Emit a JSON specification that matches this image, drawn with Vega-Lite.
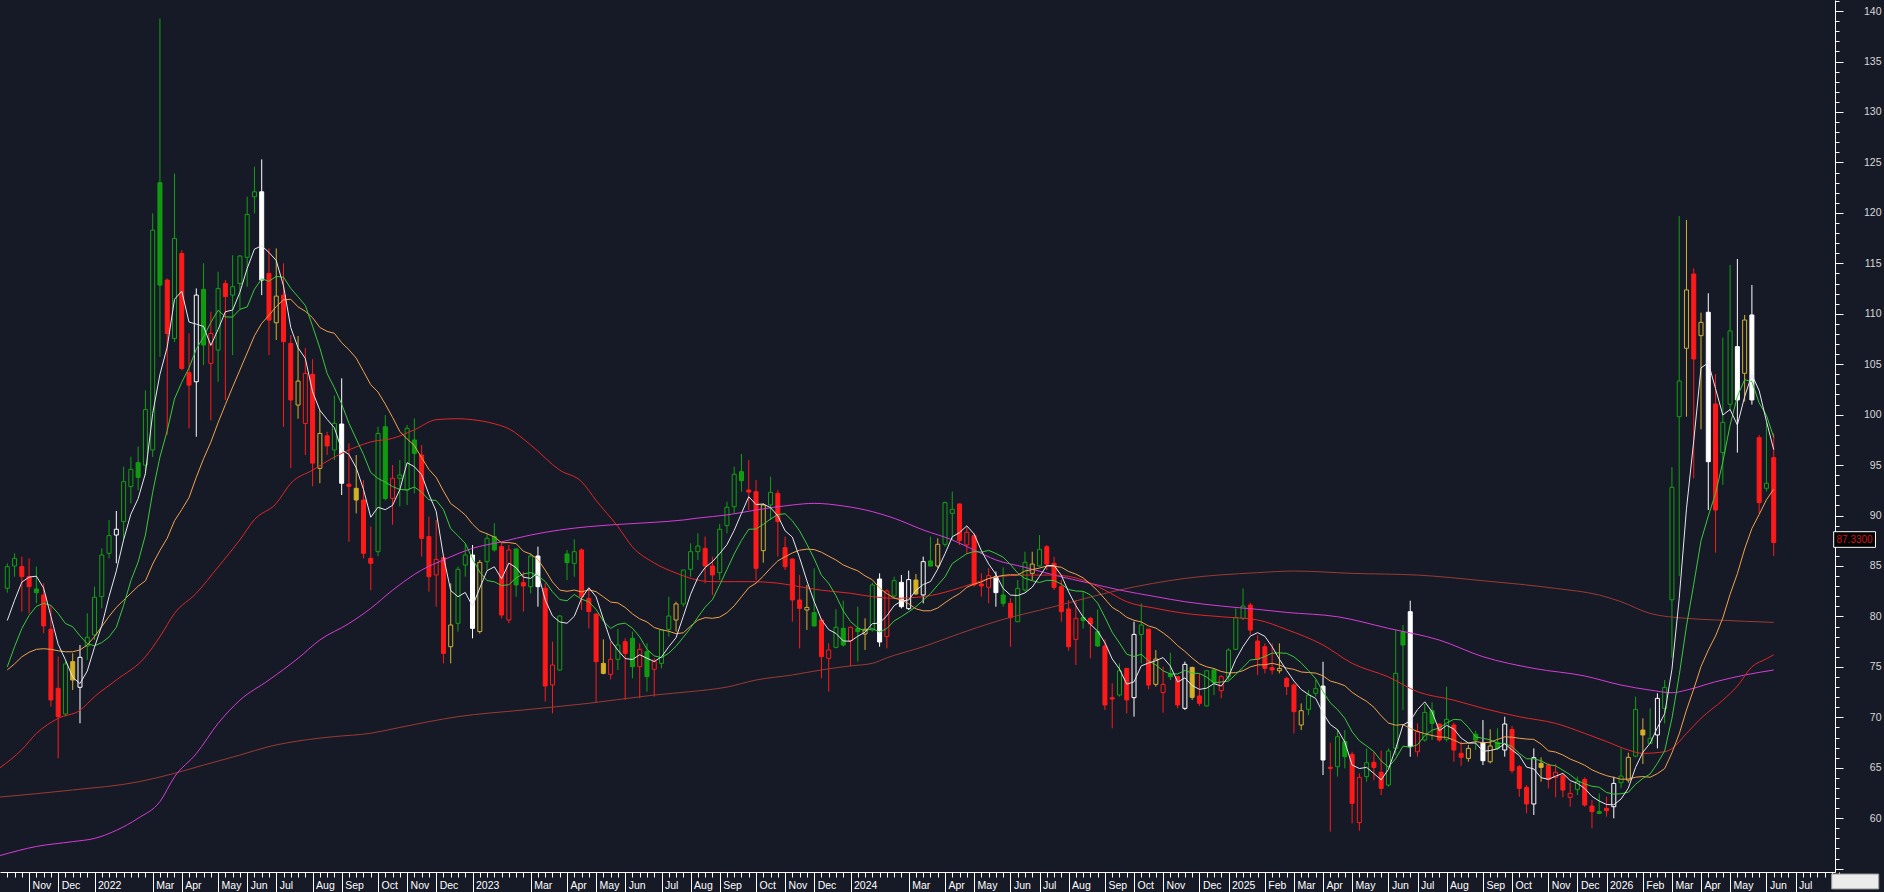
{
"$schema":"https://vega.github.io/schema/vega-lite/v6.json",
"width":1835,"height":872,
"autosize":{"type":"none"},
"padding":{"left":0,"top":0,"right":49,"bottom":20},
"background":"#161a27",
"config":{"view":{"stroke":null},"axis":{"grid":false,"title":null}},
"datasets":{
"c":[
{"d":"2021-10-15","o":82.79,"h":85.27,"l":82.36,"c":84.94,"k":"gh"},
{"d":"2021-10-22","o":85.0,"h":86.26,"l":83.94,"c":85.76,"k":"gh"},
{"d":"2021-10-29","o":84.94,"h":85.93,"l":80.48,"c":83.95,"k":"rf"},
{"d":"2021-11-05","o":83.95,"h":85.76,"l":80.31,"c":82.95,"k":"rf"},
{"d":"2021-11-12","o":82.72,"h":84.94,"l":81.3,"c":82.36,"k":"gf"},
{"d":"2021-11-19","o":82.13,"h":83.28,"l":78.33,"c":79.06,"k":"rf"},
{"d":"2021-11-26","o":78.73,"h":81.14,"l":71.06,"c":71.72,"k":"rf"},
{"d":"2021-12-03","o":72.88,"h":76.02,"l":65.94,"c":70.07,"k":"rf"},
{"d":"2021-12-10","o":70.33,"h":75.6,"l":70.1,"c":75.29,"k":"gh"},
{"d":"2021-12-17","o":75.52,"h":76.35,"l":72.71,"c":73.7,"k":"yf"},
{"d":"2021-12-24","o":72.98,"h":77.17,"l":69.41,"c":75.95,"k":"wh"},
{"d":"2021-12-31","o":77.07,"h":80.31,"l":75.69,"c":77.93,"k":"gh"},
{"d":"2022-01-07","o":78.16,"h":82.95,"l":77.67,"c":81.9,"k":"gh"},
{"d":"2022-01-14","o":81.96,"h":86.75,"l":80.81,"c":86.09,"k":"gh"},
{"d":"2022-01-21","o":86.26,"h":89.56,"l":85.76,"c":88.01,"k":"gh"},
{"d":"2022-01-28","o":88.07,"h":90.45,"l":85.27,"c":88.64,"k":"wh"},
{"d":"2022-02-04","o":89.4,"h":94.85,"l":87.6,"c":93.36,"k":"gh"},
{"d":"2022-02-11","o":92.87,"h":95.84,"l":91.21,"c":94.58,"k":"gh"},
{"d":"2022-02-18","o":95.24,"h":96.83,"l":92.5,"c":93.79,"k":"gf"},
{"d":"2022-02-25","o":95.0,"h":102.4,"l":94.0,"c":100.5,"k":"gh"},
{"d":"2022-03-04","o":96.5,"h":119.95,"l":95.8,"c":118.29,"k":"gh"},
{"d":"2022-03-11","o":122.99,"h":139.27,"l":105.74,"c":112.84,"k":"gf"},
{"d":"2022-03-18","o":113.34,"h":113.5,"l":98.0,"c":108.05,"k":"rf"},
{"d":"2022-03-25","o":107.56,"h":123.9,"l":107.2,"c":117.47,"k":"gh"},
{"d":"2022-04-01","o":115.98,"h":116.3,"l":104.4,"c":104.58,"k":"rf"},
{"d":"2022-04-08","o":104.16,"h":108.05,"l":98.64,"c":102.93,"k":"rf"},
{"d":"2022-04-15","o":103.26,"h":112.51,"l":97.81,"c":111.85,"k":"wh"},
{"d":"2022-04-22","o":112.41,"h":115.0,"l":104.9,"c":106.9,"k":"gf"},
{"d":"2022-04-29","o":105.08,"h":110.2,"l":99.45,"c":108.05,"k":"rh"},
{"d":"2022-05-06","o":106.4,"h":114.17,"l":103.26,"c":112.51,"k":"gh"},
{"d":"2022-05-13","o":113.0,"h":113.34,"l":101.45,"c":111.7,"k":"rf"},
{"d":"2022-05-20","o":111.85,"h":115.8,"l":105.9,"c":112.68,"k":"gh"},
{"d":"2022-05-27","o":113.0,"h":115.82,"l":110.4,"c":115.72,"k":"gh"},
{"d":"2022-06-03","o":115.6,"h":121.6,"l":112.68,"c":119.85,"k":"gh"},
{"d":"2022-06-10","o":121.6,"h":124.57,"l":119.95,"c":122.09,"k":"gh"},
{"d":"2022-06-17","o":122.09,"h":125.3,"l":111.85,"c":113.34,"k":"wf"},
{"d":"2022-06-24","o":114.0,"h":116.48,"l":105.9,"c":109.37,"k":"rf"},
{"d":"2022-07-01","o":109.11,"h":116.48,"l":107.4,"c":111.75,"k":"yh"},
{"d":"2022-07-08","o":111.85,"h":114.99,"l":98.8,"c":107.23,"k":"rf"},
{"d":"2022-07-15","o":107.06,"h":107.89,"l":94.7,"c":101.45,"k":"rf"},
{"d":"2022-07-22","o":100.95,"h":107.8,"l":99.6,"c":103.33,"k":"yh"},
{"d":"2022-07-29","o":99.13,"h":106.6,"l":96.0,"c":104.09,"k":"rh"},
{"d":"2022-08-05","o":104.0,"h":105.5,"l":92.9,"c":95.2,"k":"rf"},
{"d":"2022-08-12","o":94.68,"h":100.45,"l":93.2,"c":98.14,"k":"yh"},
{"d":"2022-08-19","o":97.9,"h":98.3,"l":96.0,"c":96.9,"k":"rf"},
{"d":"2022-08-26","o":96.5,"h":101.9,"l":95.5,"c":99.14,"k":"gh"},
{"d":"2022-09-02","o":99.07,"h":103.6,"l":92.04,"c":93.2,"k":"wf"},
{"d":"2022-09-09","o":93.1,"h":97.15,"l":87.4,"c":92.9,"k":"rf"},
{"d":"2022-09-16","o":92.7,"h":96.0,"l":90.22,"c":91.54,"k":"yf"},
{"d":"2022-09-23","o":91.54,"h":93.5,"l":85.76,"c":86.26,"k":"rf"},
{"d":"2022-09-30","o":85.76,"h":88.9,"l":82.6,"c":85.27,"k":"rf"},
{"d":"2022-10-07","o":86.42,"h":98.8,"l":86.0,"c":98.14,"k":"gh"},
{"d":"2022-10-14","o":98.8,"h":99.96,"l":91.5,"c":91.7,"k":"gf"},
{"d":"2022-10-21","o":91.71,"h":95.0,"l":89.1,"c":93.69,"k":"rh"},
{"d":"2022-10-28","o":93.69,"h":95.5,"l":90.9,"c":94.02,"k":"gh"},
{"d":"2022-11-04","o":92.53,"h":98.97,"l":91.05,"c":98.64,"k":"gh"},
{"d":"2022-11-11","o":97.49,"h":99.63,"l":92.2,"c":96.17,"k":"gf"},
{"d":"2022-11-18","o":96.0,"h":96.99,"l":85.93,"c":87.74,"k":"rf"},
{"d":"2022-11-25","o":87.91,"h":89.89,"l":82.46,"c":83.94,"k":"rf"},
{"d":"2022-12-02","o":84.11,"h":89.56,"l":80.97,"c":85.66,"k":"rh"},
{"d":"2022-12-09","o":85.83,"h":85.9,"l":75.35,"c":76.34,"k":"rf"},
{"d":"2022-12-16","o":77.0,"h":83.28,"l":75.35,"c":79.15,"k":"yh"},
{"d":"2022-12-23","o":79.32,"h":84.94,"l":78.5,"c":84.67,"k":"gh"},
{"d":"2022-12-30","o":85.1,"h":87.25,"l":83.94,"c":86.09,"k":"gh"},
{"d":"2023-01-06","o":86.09,"h":87.08,"l":77.83,"c":78.82,"k":"wf"},
{"d":"2023-01-13","o":78.5,"h":85.6,"l":78.3,"c":85.36,"k":"yh"},
{"d":"2023-01-20","o":85.43,"h":88.24,"l":84.6,"c":87.74,"k":"gh"},
{"d":"2023-01-27","o":87.91,"h":89.23,"l":86.42,"c":86.59,"k":"gf"},
{"d":"2023-02-03","o":86.92,"h":87.25,"l":79.81,"c":80.14,"k":"rf"},
{"d":"2023-02-10","o":79.65,"h":87.08,"l":79.32,"c":86.59,"k":"rh"},
{"d":"2023-02-17","o":86.69,"h":86.75,"l":81.96,"c":83.12,"k":"gf"},
{"d":"2023-02-24","o":83.35,"h":84.44,"l":80.48,"c":83.02,"k":"rf"},
{"d":"2023-03-03","o":82.95,"h":86.26,"l":82.29,"c":85.99,"k":"gh"},
{"d":"2023-03-10","o":85.99,"h":86.92,"l":80.97,"c":82.95,"k":"wf"},
{"d":"2023-03-17","o":82.79,"h":83.28,"l":71.56,"c":73.11,"k":"rf"},
{"d":"2023-03-24","o":73.21,"h":77.5,"l":70.4,"c":75.19,"k":"rh"},
{"d":"2023-03-31","o":74.69,"h":80.14,"l":74.63,"c":80.04,"k":"gh"},
{"d":"2023-04-07","o":86.19,"h":86.59,"l":83.61,"c":85.33,"k":"gf"},
{"d":"2023-04-14","o":85.26,"h":87.64,"l":83.94,"c":86.42,"k":"gh"},
{"d":"2023-04-21","o":86.59,"h":86.75,"l":80.64,"c":81.96,"k":"rf"},
{"d":"2023-04-28","o":81.79,"h":82.79,"l":78.82,"c":80.48,"k":"rf"},
{"d":"2023-05-05","o":80.24,"h":80.3,"l":71.46,"c":75.52,"k":"rf"},
{"d":"2023-05-12","o":75.35,"h":77.73,"l":74.26,"c":74.36,"k":"yf"},
{"d":"2023-05-19","o":74.26,"h":77.5,"l":73.77,"c":75.75,"k":"rh"},
{"d":"2023-05-26","o":75.75,"h":78.76,"l":74.69,"c":77.17,"k":"gh"},
{"d":"2023-06-02","o":77.5,"h":77.83,"l":71.72,"c":76.34,"k":"rf"},
{"d":"2023-06-09","o":77.83,"h":78.49,"l":73.87,"c":75.02,"k":"gf"},
{"d":"2023-06-16","o":75.02,"h":77.33,"l":71.88,"c":76.74,"k":"rh"},
{"d":"2023-06-23","o":76.51,"h":77.33,"l":72.55,"c":74.03,"k":"gf"},
{"d":"2023-06-30","o":74.76,"h":75.85,"l":72.05,"c":75.52,"k":"rh"},
{"d":"2023-07-07","o":75.35,"h":78.66,"l":74.86,"c":78.66,"k":"gh"},
{"d":"2023-07-14","o":78.72,"h":81.96,"l":78.0,"c":80.04,"k":"gh"},
{"d":"2023-07-21","o":79.65,"h":81.46,"l":78.49,"c":81.24,"k":"yh"},
{"d":"2023-07-28","o":81.24,"h":84.6,"l":80.97,"c":84.6,"k":"gh"},
{"d":"2023-08-04","o":84.67,"h":87.25,"l":83.94,"c":86.42,"k":"gh"},
{"d":"2023-08-11","o":86.42,"h":88.24,"l":85.6,"c":86.98,"k":"gh"},
{"d":"2023-08-18","o":86.75,"h":87.91,"l":83.28,"c":85.0,"k":"rf"},
{"d":"2023-08-25","o":85.0,"h":85.93,"l":82.13,"c":84.11,"k":"rf"},
{"d":"2023-09-01","o":84.34,"h":89.16,"l":83.61,"c":88.64,"k":"gh"},
{"d":"2023-09-08","o":89.0,"h":91.38,"l":88.24,"c":90.82,"k":"gh"},
{"d":"2023-09-15","o":90.88,"h":94.85,"l":90.22,"c":94.09,"k":"gh"},
{"d":"2023-09-22","o":94.35,"h":96.1,"l":92.37,"c":93.46,"k":"gf"},
{"d":"2023-09-29","o":92.53,"h":95.5,"l":90.55,"c":92.33,"k":"rf"},
{"d":"2023-10-06","o":92.37,"h":93.52,"l":83.61,"c":84.77,"k":"rf"},
{"d":"2023-10-13","o":86.52,"h":91.21,"l":85.33,"c":91.05,"k":"yh"},
{"d":"2023-10-20","o":91.05,"h":93.85,"l":89.56,"c":92.3,"k":"gh"},
{"d":"2023-10-27","o":92.2,"h":92.53,"l":85.93,"c":89.4,"k":"rf"},
{"d":"2023-11-03","o":86.82,"h":87.91,"l":84.6,"c":84.93,"k":"rf"},
{"d":"2023-11-10","o":85.69,"h":85.76,"l":79.48,"c":81.63,"k":"rf"},
{"d":"2023-11-17","o":81.63,"h":84.11,"l":76.84,"c":80.8,"k":"rf"},
{"d":"2023-11-24","o":80.64,"h":83.12,"l":78.66,"c":80.9,"k":"yh"},
{"d":"2023-12-01","o":80.38,"h":84.77,"l":78.99,"c":79.06,"k":"gf"},
{"d":"2023-12-08","o":79.65,"h":79.81,"l":73.87,"c":76.02,"k":"rf"},
{"d":"2023-12-15","o":75.85,"h":77.33,"l":72.55,"c":76.68,"k":"rh"},
{"d":"2023-12-22","o":76.94,"h":80.71,"l":76.84,"c":78.92,"k":"gh"},
{"d":"2023-12-29","o":78.82,"h":81.57,"l":77.0,"c":77.17,"k":"gf"},
{"d":"2024-01-05","o":77.6,"h":78.99,"l":75.03,"c":78.92,"k":"rh"},
{"d":"2024-01-12","o":78.79,"h":80.97,"l":75.52,"c":78.49,"k":"gf"},
{"d":"2024-01-19","o":78.26,"h":79.81,"l":76.68,"c":78.72,"k":"yh"},
{"d":"2024-01-26","o":78.66,"h":83.35,"l":78.49,"c":83.12,"k":"gh"},
{"d":"2024-02-02","o":83.71,"h":84.27,"l":77.0,"c":77.47,"k":"wf"},
{"d":"2024-02-09","o":78.0,"h":82.69,"l":76.84,"c":82.52,"k":"rh"},
{"d":"2024-02-16","o":82.03,"h":83.94,"l":81.8,"c":83.55,"k":"gh"},
{"d":"2024-02-23","o":83.38,"h":84.11,"l":80.8,"c":80.97,"k":"wf"},
{"d":"2024-03-01","o":80.77,"h":84.54,"l":80.64,"c":83.65,"k":"wh"},
{"d":"2024-03-08","o":83.61,"h":84.21,"l":82.13,"c":82.23,"k":"yf"},
{"d":"2024-03-15","o":82.13,"h":85.93,"l":81.3,"c":85.43,"k":"wh"},
{"d":"2024-03-22","o":85.5,"h":87.91,"l":84.93,"c":85.0,"k":"gf"},
{"d":"2024-03-29","o":85.0,"h":87.74,"l":84.77,"c":87.15,"k":"yh"},
{"d":"2024-04-05","o":87.15,"h":91.38,"l":86.92,"c":91.28,"k":"gh"},
{"d":"2024-04-12","o":90.22,"h":92.37,"l":87.58,"c":90.62,"k":"gh"},
{"d":"2024-04-19","o":91.15,"h":91.21,"l":87.08,"c":87.51,"k":"rf"},
{"d":"2024-04-26","o":87.08,"h":88.9,"l":86.19,"c":88.34,"k":"rh"},
{"d":"2024-05-03","o":88.01,"h":88.24,"l":82.95,"c":83.12,"k":"rf"},
{"d":"2024-05-10","o":83.22,"h":84.27,"l":81.96,"c":83.02,"k":"rf"},
{"d":"2024-05-17","o":82.89,"h":84.77,"l":81.3,"c":84.04,"k":"rh"},
{"d":"2024-05-24","o":83.94,"h":84.44,"l":80.97,"c":82.36,"k":"wf"},
{"d":"2024-05-31","o":82.12,"h":84.87,"l":80.97,"c":81.3,"k":"gf"},
{"d":"2024-06-07","o":81.3,"h":81.79,"l":77.0,"c":79.88,"k":"rf"},
{"d":"2024-06-14","o":79.48,"h":83.61,"l":79.48,"c":82.78,"k":"gh"},
{"d":"2024-06-21","o":82.62,"h":86.42,"l":82.45,"c":85.36,"k":"gh"},
{"d":"2024-06-28","o":84.27,"h":86.42,"l":83.61,"c":85.19,"k":"yh"},
{"d":"2024-07-05","o":85.0,"h":88.07,"l":84.93,"c":86.65,"k":"gh"},
{"d":"2024-07-12","o":86.91,"h":87.08,"l":84.6,"c":85.19,"k":"rf"},
{"d":"2024-07-19","o":85.26,"h":85.92,"l":82.62,"c":82.88,"k":"rf"},
{"d":"2024-07-26","o":82.95,"h":83.61,"l":79.48,"c":80.47,"k":"rf"},
{"d":"2024-08-02","o":80.74,"h":81.63,"l":76.61,"c":77.0,"k":"rf"},
{"d":"2024-08-09","o":77.73,"h":81.63,"l":75.19,"c":79.81,"k":"rh"},
{"d":"2024-08-16","o":79.9,"h":82.45,"l":78.8,"c":79.6,"k":"gf"},
{"d":"2024-08-23","o":79.81,"h":79.97,"l":75.85,"c":79.25,"k":"rf"},
{"d":"2024-08-30","o":78.49,"h":80.7,"l":77.0,"c":77.07,"k":"gf"},
{"d":"2024-09-06","o":77.07,"h":77.73,"l":70.73,"c":71.22,"k":"rf"},
{"d":"2024-09-13","o":71.95,"h":73.37,"l":68.91,"c":71.81,"k":"rf"},
{"d":"2024-09-20","o":72.21,"h":75.35,"l":72.05,"c":74.62,"k":"gh"},
{"d":"2024-09-27","o":74.85,"h":74.86,"l":70.4,"c":71.72,"k":"rf"},
{"d":"2024-10-04","o":71.95,"h":79.48,"l":70.07,"c":78.22,"k":"wh"},
{"d":"2024-10-11","o":78.22,"h":81.3,"l":75.35,"c":79.15,"k":"gh"},
{"d":"2024-10-18","o":78.75,"h":78.75,"l":72.77,"c":73.2,"k":"rf"},
{"d":"2024-10-25","o":73.27,"h":76.67,"l":73.04,"c":75.78,"k":"yh"},
{"d":"2024-11-01","o":72.45,"h":75.02,"l":70.46,"c":73.27,"k":"rh"},
{"d":"2024-11-08","o":74.26,"h":76.41,"l":73.7,"c":74.03,"k":"gf"},
{"d":"2024-11-15","o":74.03,"h":74.03,"l":70.89,"c":71.22,"k":"rf"},
{"d":"2024-11-22","o":70.89,"h":75.52,"l":70.73,"c":75.25,"k":"wh"},
{"d":"2024-11-29","o":74.95,"h":75.02,"l":71.72,"c":71.98,"k":"yf"},
{"d":"2024-12-06","o":72.12,"h":74.36,"l":71.13,"c":71.39,"k":"rf"},
{"d":"2024-12-13","o":71.13,"h":74.69,"l":71.06,"c":74.62,"k":"gh"},
{"d":"2024-12-20","o":74.69,"h":74.86,"l":72.21,"c":73.47,"k":"gf"},
{"d":"2024-12-27","o":72.64,"h":74.2,"l":71.88,"c":74.03,"k":"rh"},
{"d":"2025-01-03","o":74.03,"h":76.84,"l":73.7,"c":76.67,"k":"gh"},
{"d":"2025-01-10","o":76.74,"h":80.8,"l":76.67,"c":79.88,"k":"gh"},
{"d":"2025-01-17","o":79.81,"h":82.78,"l":79.65,"c":81.03,"k":"gh"},
{"d":"2025-01-24","o":81.13,"h":81.36,"l":78.16,"c":78.65,"k":"rf"},
{"d":"2025-01-31","o":77.56,"h":78.16,"l":74.2,"c":75.75,"k":"rf"},
{"d":"2025-02-07","o":77.0,"h":77.33,"l":74.36,"c":74.85,"k":"rf"},
{"d":"2025-02-14","o":74.92,"h":77.33,"l":74.26,"c":74.69,"k":"rf"},
{"d":"2025-02-21","o":74.62,"h":77.33,"l":74.36,"c":74.85,"k":"yh"},
{"d":"2025-02-28","o":73.86,"h":74.03,"l":72.21,"c":73.04,"k":"rf"},
{"d":"2025-03-07","o":73.2,"h":73.37,"l":68.41,"c":70.56,"k":"rf"},
{"d":"2025-03-14","o":69.24,"h":71.38,"l":68.74,"c":70.66,"k":"yh"},
{"d":"2025-03-21","o":70.79,"h":72.71,"l":70.23,"c":72.21,"k":"gh"},
{"d":"2025-03-28","o":72.38,"h":73.7,"l":72.05,"c":72.87,"k":"gh"},
{"d":"2025-04-04","o":73.1,"h":75.51,"l":64.28,"c":65.77,"k":"wf"},
{"d":"2025-04-11","o":65.05,"h":67.49,"l":58.67,"c":64.94,"k":"rf"},
{"d":"2025-04-18","o":65.11,"h":68.81,"l":64.12,"c":68.08,"k":"gh"},
{"d":"2025-04-25","o":67.59,"h":68.74,"l":64.94,"c":66.1,"k":"gf"},
{"d":"2025-05-02","o":66.33,"h":66.59,"l":59.49,"c":61.47,"k":"rf"},
{"d":"2025-05-09","o":59.56,"h":64.45,"l":58.76,"c":64.05,"k":"rh"},
{"d":"2025-05-16","o":64.12,"h":66.92,"l":63.62,"c":65.5,"k":"gh"},
{"d":"2025-05-23","o":65.54,"h":66.59,"l":63.78,"c":65.04,"k":"rf"},
{"d":"2025-05-30","o":64.55,"h":66.69,"l":62.3,"c":62.96,"k":"rf"},
{"d":"2025-06-06","o":63.29,"h":66.92,"l":63.12,"c":66.66,"k":"gh"},
{"d":"2025-06-13","o":66.92,"h":78.65,"l":66.26,"c":74.36,"k":"gh"},
{"d":"2025-06-20","o":78.49,"h":79.15,"l":70.72,"c":77.17,"k":"gf"},
{"d":"2025-06-27","o":80.47,"h":81.56,"l":66.1,"c":67.09,"k":"wf"},
{"d":"2025-07-04","o":66.59,"h":69.4,"l":66.1,"c":68.58,"k":"rh"},
{"d":"2025-07-11","o":67.75,"h":71.32,"l":67.59,"c":70.49,"k":"gh"},
{"d":"2025-07-18","o":70.66,"h":71.48,"l":67.75,"c":69.4,"k":"gf"},
{"d":"2025-07-25","o":69.34,"h":69.4,"l":67.59,"c":67.75,"k":"rf"},
{"d":"2025-08-01","o":67.82,"h":73.04,"l":67.59,"c":69.8,"k":"gh"},
{"d":"2025-08-08","o":69.24,"h":69.47,"l":65.6,"c":66.76,"k":"rf"},
{"d":"2025-08-15","o":66.43,"h":67.59,"l":65.18,"c":66.03,"k":"rf"},
{"d":"2025-08-22","o":65.93,"h":67.26,"l":65.6,"c":66.92,"k":"yh"},
{"d":"2025-08-29","o":68.31,"h":68.67,"l":66.76,"c":67.75,"k":"gf"},
{"d":"2025-09-05","o":67.49,"h":69.73,"l":65.27,"c":65.7,"k":"wf"},
{"d":"2025-09-12","o":65.6,"h":68.81,"l":65.44,"c":67.16,"k":"yh"},
{"d":"2025-09-19","o":67.49,"h":68.91,"l":66.76,"c":66.92,"k":"gf"},
{"d":"2025-09-26","o":66.76,"h":70.06,"l":66.1,"c":69.34,"k":"wh"},
{"d":"2025-10-03","o":68.8,"h":69.14,"l":64.45,"c":64.71,"k":"rf"},
{"d":"2025-10-10","o":65.11,"h":65.27,"l":62.13,"c":62.96,"k":"rf"},
{"d":"2025-10-17","o":63.06,"h":63.29,"l":60.48,"c":61.41,"k":"rf"},
{"d":"2025-10-24","o":61.41,"h":66.92,"l":60.32,"c":66.0,"k":"wh"},
{"d":"2025-10-31","o":65.44,"h":66.03,"l":63.62,"c":65.04,"k":"yf"},
{"d":"2025-11-07","o":65.27,"h":65.44,"l":62.96,"c":63.85,"k":"rf"},
{"d":"2025-11-14","o":64.05,"h":65.37,"l":62.07,"c":64.55,"k":"rh"},
{"d":"2025-11-21","o":64.22,"h":64.45,"l":62.07,"c":62.79,"k":"rf"},
{"d":"2025-11-28","o":62.07,"h":63.52,"l":61.14,"c":62.46,"k":"rh"},
{"d":"2025-12-05","o":62.86,"h":64.12,"l":62.3,"c":63.62,"k":"gh"},
{"d":"2025-12-12","o":63.85,"h":64.05,"l":61.14,"c":61.31,"k":"rf"},
{"d":"2025-12-19","o":61.21,"h":61.8,"l":59.0,"c":60.65,"k":"rf"},
{"d":"2025-12-26","o":60.65,"h":62.46,"l":60.4,"c":60.48,"k":"gf"},
{"d":"2026-01-02","o":60.98,"h":62.13,"l":60.15,"c":60.75,"k":"rf"},
{"d":"2026-01-09","o":61.14,"h":64.12,"l":59.99,"c":63.45,"k":"wh"},
{"d":"2026-01-16","o":63.52,"h":66.92,"l":62.96,"c":64.18,"k":"gh"},
{"d":"2026-01-23","o":63.78,"h":66.49,"l":63.52,"c":66.03,"k":"yh"},
{"d":"2026-01-30","o":66.16,"h":72.05,"l":66.03,"c":70.79,"k":"gh"},
{"d":"2026-02-06","o":68.74,"h":69.9,"l":65.37,"c":68.25,"k":"yf"},
{"d":"2026-02-13","o":67.42,"h":70.89,"l":67.36,"c":67.92,"k":"gh"},
{"d":"2026-02-20","o":68.25,"h":72.38,"l":66.92,"c":71.88,"k":"wh"},
{"d":"2026-02-27","o":70.89,"h":73.7,"l":69.4,"c":72.97,"k":"gh"},
{"d":"2026-03-06","o":81.65,"h":94.8,"l":75.9,"c":92.8,"k":"gh"},
{"d":"2026-03-13","o":99.8,"h":119.69,"l":84.0,"c":103.34,"k":"gh"},
{"d":"2026-03-20","o":106.58,"h":119.3,"l":99.8,"c":112.36,"k":"yh"},
{"d":"2026-03-27","o":113.94,"h":114.5,"l":93.69,"c":105.52,"k":"rf"},
{"d":"2026-04-03","o":107.83,"h":110.11,"l":98.55,"c":109.15,"k":"yh"},
{"d":"2026-04-10","o":110.15,"h":112.03,"l":90.55,"c":95.34,"k":"wf"},
{"d":"2026-04-17","o":101.06,"h":104.03,"l":86.33,"c":90.55,"k":"rf"},
{"d":"2026-04-24","o":96.24,"h":107.63,"l":93.03,"c":99.24,"k":"gh"},
{"d":"2026-05-01","o":101.03,"h":114.84,"l":100.46,"c":108.3,"k":"gh"},
{"d":"2026-05-08","o":106.74,"h":115.43,"l":96.24,"c":101.46,"k":"wf"},
{"d":"2026-05-15","o":104.1,"h":109.88,"l":101.3,"c":109.38,"k":"yh"},
{"d":"2026-05-22","o":109.88,"h":112.85,"l":101.0,"c":101.46,"k":"wf"},
{"d":"2026-05-29","o":97.72,"h":97.99,"l":90.22,"c":91.28,"k":"rf"},
{"d":"2026-06-05","o":92.7,"h":99.2,"l":92.4,"c":93.2,"k":"gh"},
{"d":"2026-06-12","o":95.74,"h":98.15,"l":86.0,"c":87.33,"k":"rf"}
],
"ma":[
{"d":"2021-10-15","v":79.6,"s":"w"},{"d":"2021-10-22","v":81.6,"s":"w"},{"d":"2021-10-29","v":83.4,"s":"w"},{"d":"2021-11-05","v":83.9,"s":"w"},{"d":"2021-11-12","v":83.99,"s":"w"},
{"d":"2021-10-15","v":75.0,"s":"g"},{"d":"2021-10-22","v":77.0,"s":"g"},{"d":"2021-10-29","v":78.8,"s":"g"},{"d":"2021-11-05","v":80.1,"s":"g"},{"d":"2021-11-12","v":81.0,"s":"g"},{"d":"2021-11-19","v":81.3,"s":"g"},{"d":"2021-11-26","v":81.1,"s":"g"},{"d":"2021-12-03","v":80.3,"s":"g"},{"d":"2021-12-10","v":79.3,"s":"g"},{"d":"2021-12-17","v":78.98,"s":"g"},
{"d":"2021-10-15","v":74.7,"s":"o"},{"d":"2021-10-22","v":75.3,"s":"o"},{"d":"2021-10-29","v":76.0,"s":"o"},{"d":"2021-11-05","v":76.45,"s":"o"},{"d":"2021-11-12","v":76.74,"s":"o"},{"d":"2021-11-19","v":76.8,"s":"o"},{"d":"2021-11-26","v":76.74,"s":"o"},{"d":"2021-12-03","v":76.6,"s":"o"},{"d":"2021-12-10","v":76.5,"s":"o"},{"d":"2021-12-17","v":76.5,"s":"o"},{"d":"2021-12-24","v":76.68,"s":"o"},{"d":"2021-12-31","v":77.17,"s":"o"},{"d":"2022-01-07","v":78.0,"s":"o"},{"d":"2022-01-14","v":79.0,"s":"o"},{"d":"2022-01-21","v":80.0,"s":"o"},{"d":"2022-01-28","v":80.9,"s":"o"},{"d":"2022-02-04","v":81.6,"s":"o"},{"d":"2022-02-11","v":82.3,"s":"o"},{"d":"2022-02-18","v":83.0,"s":"o"},{"d":"2022-02-25","v":83.53,"s":"o"},
{"d":"2021-10-08","v":65.0,"s":"r"},{"d":"2021-10-29","v":66.8,"s":"r"},{"d":"2021-11-12","v":68.4,"s":"r"},{"d":"2021-12-03","v":69.9,"s":"r"},{"d":"2021-12-24","v":70.7,"s":"r"},{"d":"2022-01-07","v":72.05,"s":"r"},{"d":"2022-01-28","v":73.7,"s":"r"},{"d":"2022-02-25","v":76.0,"s":"r"},{"d":"2022-03-11","v":78.0,"s":"r"},{"d":"2022-03-25","v":80.3,"s":"r"},{"d":"2022-04-15","v":82.3,"s":"r"},{"d":"2022-05-06","v":84.9,"s":"r"},{"d":"2022-05-27","v":87.6,"s":"r"},{"d":"2022-06-10","v":89.6,"s":"r"},{"d":"2022-07-01","v":91.2,"s":"r"},{"d":"2022-07-15","v":93.2,"s":"r"},{"d":"2022-08-05","v":94.5,"s":"r"},{"d":"2022-08-26","v":95.8,"s":"r"},{"d":"2022-09-16","v":96.8,"s":"r"},{"d":"2022-09-30","v":97.3,"s":"r"},{"d":"2022-10-21","v":97.65,"s":"r"},{"d":"2022-11-11","v":98.5,"s":"r"},{"d":"2022-12-02","v":99.5,"s":"r"},{"d":"2022-12-23","v":99.6,"s":"r"},{"d":"2023-01-06","v":99.5,"s":"r"},{"d":"2023-01-27","v":99.1,"s":"r"},{"d":"2023-02-10","v":98.6,"s":"r"},{"d":"2023-03-03","v":97.0,"s":"r"},{"d":"2023-03-31","v":94.5,"s":"r"},{"d":"2023-04-21","v":93.36,"s":"r"},{"d":"2023-05-05","v":91.5,"s":"r"},{"d":"2023-05-26","v":88.9,"s":"r"},{"d":"2023-06-09","v":86.9,"s":"r"},{"d":"2023-06-30","v":85.3,"s":"r"},{"d":"2023-07-21","v":84.3,"s":"r"},{"d":"2023-08-11","v":83.6,"s":"r"},{"d":"2023-08-25","v":83.45,"s":"r"},{"d":"2023-09-15","v":83.45,"s":"r"},{"d":"2023-09-29","v":83.45,"s":"r"},{"d":"2023-10-27","v":83.3,"s":"r"},{"d":"2023-11-17","v":82.95,"s":"r"},{"d":"2023-12-08","v":82.6,"s":"r"},{"d":"2024-01-05","v":82.3,"s":"r"},{"d":"2024-01-26","v":81.96,"s":"r"},{"d":"2024-02-16","v":81.8,"s":"r"},{"d":"2024-03-15","v":81.96,"s":"r"},{"d":"2024-04-12","v":82.6,"s":"r"},{"d":"2024-05-03","v":83.3,"s":"r"},{"d":"2024-05-24","v":83.9,"s":"r"},{"d":"2024-06-21","v":84.1,"s":"r"},{"d":"2024-07-19","v":84.1,"s":"r"},{"d":"2024-08-16","v":83.6,"s":"r"},{"d":"2024-09-06","v":82.6,"s":"r"},{"d":"2024-09-27","v":81.46,"s":"r"},{"d":"2024-10-25","v":80.8,"s":"r"},{"d":"2024-11-22","v":80.3,"s":"r"},{"d":"2024-12-27","v":79.97,"s":"r"},{"d":"2025-01-31","v":79.65,"s":"r"},{"d":"2025-02-28","v":78.7,"s":"r"},{"d":"2025-04-04","v":77.17,"s":"r"},{"d":"2025-05-02","v":75.35,"s":"r"},{"d":"2025-06-06","v":74.0,"s":"r"},{"d":"2025-07-04","v":72.54,"s":"r"},{"d":"2025-08-08","v":71.7,"s":"r"},{"d":"2025-09-05","v":70.9,"s":"r"},{"d":"2025-10-10","v":70.06,"s":"r"},{"d":"2025-11-14","v":69.4,"s":"r"},{"d":"2025-12-12","v":68.41,"s":"r"},{"d":"2026-01-02","v":67.6,"s":"r"},{"d":"2026-01-23","v":66.76,"s":"r"},{"d":"2026-02-06","v":66.43,"s":"r"},{"d":"2026-02-27","v":66.59,"s":"r"},{"d":"2026-03-06","v":66.9,"s":"r"},{"d":"2026-03-20","v":68.4,"s":"r"},{"d":"2026-04-03","v":69.9,"s":"r"},{"d":"2026-04-24","v":71.7,"s":"r"},{"d":"2026-05-08","v":73.1,"s":"r"},{"d":"2026-05-22","v":75.0,"s":"r"},{"d":"2026-06-05","v":75.8,"s":"r"},{"d":"2026-06-12","v":76.2,"s":"r"},
{"d":"2021-10-08","v":56.3,"s":"m"},{"d":"2021-11-12","v":57.2,"s":"m"},{"d":"2021-12-17","v":57.68,"s":"m"},{"d":"2022-01-07","v":58.0,"s":"m"},{"d":"2022-01-28","v":58.8,"s":"m"},{"d":"2022-02-18","v":60.0,"s":"m"},{"d":"2022-03-11","v":61.65,"s":"m"},{"d":"2022-03-25","v":64.1,"s":"m"},{"d":"2022-04-15","v":66.4,"s":"m"},{"d":"2022-05-06","v":69.4,"s":"m"},{"d":"2022-05-27","v":71.7,"s":"m"},{"d":"2022-06-24","v":73.7,"s":"m"},{"d":"2022-07-22","v":75.85,"s":"m"},{"d":"2022-08-12","v":77.67,"s":"m"},{"d":"2022-09-09","v":79.3,"s":"m"},{"d":"2022-09-30","v":80.8,"s":"m"},{"d":"2022-10-21","v":82.6,"s":"m"},{"d":"2022-11-18","v":84.6,"s":"m"},{"d":"2022-12-09","v":85.6,"s":"m"},{"d":"2023-01-06","v":86.75,"s":"m"},{"d":"2023-02-03","v":87.4,"s":"m"},{"d":"2023-03-03","v":88.07,"s":"m"},{"d":"2023-03-31","v":88.57,"s":"m"},{"d":"2023-04-28","v":88.9,"s":"m"},{"d":"2023-06-02","v":89.16,"s":"m"},{"d":"2023-06-30","v":89.33,"s":"m"},{"d":"2023-07-28","v":89.56,"s":"m"},{"d":"2023-08-11","v":89.75,"s":"m"},{"d":"2023-09-08","v":90.06,"s":"m"},{"d":"2023-10-06","v":90.55,"s":"m"},{"d":"2023-11-10","v":91.05,"s":"m"},{"d":"2023-12-01","v":91.21,"s":"m"},{"d":"2023-12-29","v":90.95,"s":"m"},{"d":"2024-01-26","v":90.39,"s":"m"},{"d":"2024-02-16","v":89.73,"s":"m"},{"d":"2024-03-15","v":88.57,"s":"m"},{"d":"2024-04-12","v":87.58,"s":"m"},{"d":"2024-05-03","v":86.59,"s":"m"},{"d":"2024-05-24","v":85.6,"s":"m"},{"d":"2024-06-21","v":84.87,"s":"m"},{"d":"2024-07-19","v":84.1,"s":"m"},{"d":"2024-08-23","v":83.28,"s":"m"},{"d":"2024-09-20","v":82.62,"s":"m"},{"d":"2024-10-25","v":81.96,"s":"m"},{"d":"2024-11-22","v":81.46,"s":"m"},{"d":"2024-12-27","v":81.03,"s":"m"},{"d":"2025-01-31","v":80.7,"s":"m"},{"d":"2025-02-28","v":80.4,"s":"m"},{"d":"2025-04-18","v":79.97,"s":"m"},{"d":"2025-06-06","v":78.82,"s":"m"},{"d":"2025-07-25","v":77.66,"s":"m"},{"d":"2025-09-05","v":76.01,"s":"m"},{"d":"2025-10-24","v":74.85,"s":"m"},{"d":"2025-12-12","v":74.1,"s":"m"},{"d":"2026-01-16","v":73.2,"s":"m"},{"d":"2026-02-13","v":72.7,"s":"m"},{"d":"2026-03-06","v":72.44,"s":"m"},{"d":"2026-03-20","v":72.7,"s":"m"},{"d":"2026-04-17","v":73.53,"s":"m"},{"d":"2026-05-15","v":74.19,"s":"m"},{"d":"2026-06-12","v":74.69,"s":"m"},
{"d":"2021-10-08","v":62.1,"s":"b"},{"d":"2021-12-17","v":62.8,"s":"b"},{"d":"2022-02-18","v":63.6,"s":"b"},{"d":"2022-03-25","v":64.45,"s":"b"},{"d":"2022-04-22","v":65.27,"s":"b"},{"d":"2022-05-27","v":66.26,"s":"b"},{"d":"2022-06-24","v":67.1,"s":"b"},{"d":"2022-07-29","v":67.76,"s":"b"},{"d":"2022-08-26","v":68.09,"s":"b"},{"d":"2022-09-30","v":68.42,"s":"b"},{"d":"2022-10-28","v":69.0,"s":"b"},{"d":"2022-12-23","v":70.07,"s":"b"},{"d":"2023-02-24","v":70.73,"s":"b"},{"d":"2023-04-28","v":71.39,"s":"b"},{"d":"2023-06-30","v":72.21,"s":"b"},{"d":"2023-08-04","v":72.55,"s":"b"},{"d":"2023-09-08","v":73.0,"s":"b"},{"d":"2023-10-06","v":73.7,"s":"b"},{"d":"2023-11-10","v":74.2,"s":"b"},{"d":"2023-12-08","v":74.7,"s":"b"},{"d":"2024-01-05","v":75.1,"s":"b"},{"d":"2024-01-26","v":75.35,"s":"b"},{"d":"2024-02-09","v":75.9,"s":"b"},{"d":"2024-03-15","v":77.0,"s":"b"},{"d":"2024-04-19","v":78.3,"s":"b"},{"d":"2024-05-24","v":79.5,"s":"b"},{"d":"2024-07-19","v":80.97,"s":"b"},{"d":"2024-09-20","v":82.62,"s":"b"},{"d":"2024-11-22","v":83.77,"s":"b"},{"d":"2025-01-31","v":84.34,"s":"b"},{"d":"2025-03-07","v":84.5,"s":"b"},{"d":"2025-05-02","v":84.27,"s":"b"},{"d":"2025-07-04","v":84.1,"s":"b"},{"d":"2025-09-05","v":83.54,"s":"b"},{"d":"2025-11-14","v":82.78,"s":"b"},{"d":"2025-12-26","v":82.12,"s":"b"},{"d":"2026-01-16","v":81.46,"s":"b"},{"d":"2026-02-13","v":80.3,"s":"b"},{"d":"2026-03-20","v":79.81,"s":"b"},{"d":"2026-04-17","v":79.65,"s":"b"},{"d":"2026-06-12","v":79.41,"s":"b"}
],
"box":[{"x1":"2026-08-08T18:00:00Z","x2":"2026-09-18T00:00:00Z","xt":"2026-08-28T21:00:00Z","y1":86.85,"y2":88.4,"yt":87.62,"t":"87.3300"}],
"ui":[{"x1":"2026-08-06T20:00:00Z","x2":"2026-09-21T03:00:00Z","y1":52.99,"y2":54.47}]
},
"resolve":{"axis":{"x":"independent","y":"independent"}},
"layer":[
{"data":{"name":"c"},
 "mark":{"type":"rule","strokeWidth":1,"clip":true},
 "encoding":{
  "x":{"field":"d","type":"temporal","scale":{"type":"utc","domain":[{"year":2021,"month":10,"date":12,"hours":19,"utc":true},{"year":2026,"month":8,"date":5,"hours":5,"utc":true}]},
   "axis":{"orient":"bottom","values":[
    {"year":2021,"month":11,"date":5,"utc":true},{"year":2021,"month":12,"date":3,"utc":true},
    {"year":2022,"month":1,"date":7,"utc":true},{"year":2022,"month":3,"date":4,"utc":true},{"year":2022,"month":4,"date":1,"utc":true},{"year":2022,"month":5,"date":6,"utc":true},{"year":2022,"month":6,"date":3,"utc":true},{"year":2022,"month":7,"date":1,"utc":true},{"year":2022,"month":8,"date":5,"utc":true},{"year":2022,"month":9,"date":2,"utc":true},{"year":2022,"month":10,"date":7,"utc":true},{"year":2022,"month":11,"date":4,"utc":true},{"year":2022,"month":12,"date":2,"utc":true},
    {"year":2023,"month":1,"date":6,"utc":true},{"year":2023,"month":3,"date":3,"utc":true},{"year":2023,"month":4,"date":7,"utc":true},{"year":2023,"month":5,"date":5,"utc":true},{"year":2023,"month":6,"date":2,"utc":true},{"year":2023,"month":7,"date":7,"utc":true},{"year":2023,"month":8,"date":4,"utc":true},{"year":2023,"month":9,"date":1,"utc":true},{"year":2023,"month":10,"date":6,"utc":true},{"year":2023,"month":11,"date":3,"utc":true},{"year":2023,"month":12,"date":1,"utc":true},
    {"year":2024,"month":1,"date":5,"utc":true},{"year":2024,"month":3,"date":1,"utc":true},{"year":2024,"month":4,"date":5,"utc":true},{"year":2024,"month":5,"date":3,"utc":true},{"year":2024,"month":6,"date":7,"utc":true},{"year":2024,"month":7,"date":5,"utc":true},{"year":2024,"month":8,"date":2,"utc":true},{"year":2024,"month":9,"date":6,"utc":true},{"year":2024,"month":10,"date":4,"utc":true},{"year":2024,"month":11,"date":1,"utc":true},{"year":2024,"month":12,"date":6,"utc":true},
    {"year":2025,"month":1,"date":3,"utc":true},{"year":2025,"month":2,"date":7,"utc":true},{"year":2025,"month":3,"date":7,"utc":true},{"year":2025,"month":4,"date":4,"utc":true},{"year":2025,"month":5,"date":2,"utc":true},{"year":2025,"month":6,"date":6,"utc":true},{"year":2025,"month":7,"date":4,"utc":true},{"year":2025,"month":8,"date":1,"utc":true},{"year":2025,"month":9,"date":5,"utc":true},{"year":2025,"month":10,"date":3,"utc":true},{"year":2025,"month":11,"date":7,"utc":true},{"year":2025,"month":12,"date":5,"utc":true},
    {"year":2026,"month":1,"date":2,"utc":true},{"year":2026,"month":2,"date":6,"utc":true},{"year":2026,"month":3,"date":6,"utc":true},{"year":2026,"month":4,"date":3,"utc":true},{"year":2026,"month":5,"date":1,"utc":true},{"year":2026,"month":6,"date":5,"utc":true},{"year":2026,"month":7,"date":3,"utc":true}],
    "labelExpr":"utcFormat(datum.value,'%m')=='01' ? utcFormat(datum.value,'%Y') : utcFormat(datum.value,'%b')",
    "tickSize":20,"tickColor":"#ffffff","tickWidth":1,"domainColor":"#ffffff","domainWidth":1,
    "labelColor":"#ffffff","labelFont":"Liberation Sans","labelFontSize":10.5,"labelAlign":"left","labelBaseline":"alphabetic","labelPadding":-4,"labelOffset":3,
    "labelOverlap":false,"labelFlush":false,"labelBound":false,"grid":false,"title":null}},
  "y":{"field":"l","type":"quantitative","scale":{"domain":[54.67,141.1],"nice":false,"zero":false},
   "axis":{"orient":"right","values":[55,60,65,70,75,80,85,90,95,100,105,110,115,120,125,130,135,140],
    "labelExpr":"datum.value==55 ? '' : datum.label","tickSize":8,"tickColor":"#ffffff","domainColor":"#ffffff",
    "labelColor":"#d8d8d8","labelFont":"Liberation Sans","labelFontSize":10.5,"labelAlign":"right","labelBaseline":"middle","labelPadding":38,
    "labelOverlap":false,"labelFlush":false,"grid":false,"title":null}},
  "y2":{"field":"h"},
  "stroke":{"field":"k","type":"nominal","scale":{"domain":["gh","gf","rh","rf","wh","wf","yh","yf"],"range":["#12a012","#12a012","#ff1a1a","#ff1a1a","#ffffff","#ffffff","#d2b030","#d2b030"]},"legend":null}
 }},
{"data":{"name":"c"},
 "mark":{"type":"bar","width":4,"strokeWidth":1,"clip":true},
 "encoding":{
  "x":{"field":"d","type":"temporal","scale":{"type":"utc","domain":[{"year":2021,"month":10,"date":12,"hours":19,"utc":true},{"year":2026,"month":8,"date":5,"hours":5,"utc":true}]},
   "axis":{"orient":"bottom","tickCount":{"interval":"week","step":1},"tickOffset":5.2,"tickSize":5,"labels":false,"domain":false,"tickColor":"#ffffff","grid":false,"title":null}},
  "y":{"field":"o","type":"quantitative","scale":{"domain":[54.67,141.1],"nice":false,"zero":false},
   "axis":{"orient":"right","values":[55,56,57,58,59,60,61,62,63,64,65,66,67,68,69,70,71,72,73,74,75,76,77,78,79,80,81,82,83,84,85,86,87,88,89,90,91,92,93,94,95,96,97,98,99,100,101,102,103,104,105,106,107,108,109,110,111,112,113,114,115,116,117,118,119,120,121,122,123,124,125,126,127,128,129,130,131,132,133,134,135,136,137,138,139,140,141],
    "tickSize":4,"labels":false,"domain":false,"tickColor":"#ffffff","grid":false,"title":null}},
  "y2":{"field":"c"},
  "fill":{"field":"k","type":"nominal","scale":{"domain":["gh","gf","rh","rf","wh","wf","yh","yf"],"range":["#161a27","#0f9a0f","#161a27","#ff1a1a","#161a27","#ffffff","#161a27","#d8b020"]},"legend":null},
  "stroke":{"field":"k","type":"nominal","scale":{"domain":["gh","gf","rh","rf","wh","wf","yh","yf"],"range":["#12a012","#12a012","#ff1a1a","#ff1a1a","#ffffff","#ffffff","#d2b030","#d2b030"]},"legend":null}
 }},
{"data":{"name":"ma"},"transform":[{"filter":"datum.s=='b'"}],
 "mark":{"type":"line","stroke":"#9a3a34","strokeWidth":1,"interpolate":"monotone","clip":true},
 "encoding":{"x":{"field":"d","type":"temporal","axis":null},"y":{"field":"v","type":"quantitative","axis":null}}},
{"data":{"name":"ma"},"transform":[{"filter":"datum.s=='m'"}],
 "mark":{"type":"line","stroke":"#d63cd6","strokeWidth":1,"interpolate":"monotone","clip":true},
 "encoding":{"x":{"field":"d","type":"temporal","axis":null},"y":{"field":"v","type":"quantitative","axis":null}}},
{"data":{"name":"ma"},"transform":[{"filter":"datum.s=='r'"}],
 "mark":{"type":"line","stroke":"#e02626","strokeWidth":1,"interpolate":"monotone","clip":true},
 "encoding":{"x":{"field":"d","type":"temporal","axis":null},"y":{"field":"v","type":"quantitative","axis":null}}},
{"data":{"name":"ma"},"transform":[{"filter":"datum.s=='o'"}],
 "mark":{"type":"line","stroke":"#f2a24e","strokeWidth":1,"clip":true},
 "encoding":{"x":{"field":"d","type":"temporal","axis":null},"y":{"field":"v","type":"quantitative","axis":null}}},
{"data":{"name":"c"},"transform":[{"window":[{"op":"mean","field":"c","as":"m"},{"op":"row_number","as":"rn"}],"frame":[-19,0],"sort":[{"field":"d"}]},{"filter":"datum.rn >= 20"}],
 "mark":{"type":"line","stroke":"#f2a24e","strokeWidth":1,"clip":true},
 "encoding":{"x":{"field":"d","type":"temporal","axis":null},"y":{"field":"m","type":"quantitative","axis":null}}},
{"data":{"name":"ma"},"transform":[{"filter":"datum.s=='g'"}],
 "mark":{"type":"line","stroke":"#3cc83c","strokeWidth":1,"clip":true},
 "encoding":{"x":{"field":"d","type":"temporal","axis":null},"y":{"field":"v","type":"quantitative","axis":null}}},
{"data":{"name":"c"},"transform":[{"window":[{"op":"mean","field":"c","as":"m"},{"op":"row_number","as":"rn"}],"frame":[-9,0],"sort":[{"field":"d"}]},{"filter":"datum.rn >= 10"}],
 "mark":{"type":"line","stroke":"#3cc83c","strokeWidth":1,"clip":true},
 "encoding":{"x":{"field":"d","type":"temporal","axis":null},"y":{"field":"m","type":"quantitative","axis":null}}},
{"data":{"name":"ma"},"transform":[{"filter":"datum.s=='w'"}],
 "mark":{"type":"line","stroke":"#e6e6ee","strokeWidth":1,"clip":true},
 "encoding":{"x":{"field":"d","type":"temporal","axis":null},"y":{"field":"v","type":"quantitative","axis":null}}},
{"data":{"name":"c"},"transform":[{"window":[{"op":"mean","field":"c","as":"m"},{"op":"row_number","as":"rn"}],"frame":[-4,0],"sort":[{"field":"d"}]},{"filter":"datum.rn >= 5"}],
 "mark":{"type":"line","stroke":"#e6e6ee","strokeWidth":1,"clip":true},
 "encoding":{"x":{"field":"d","type":"temporal","axis":null},"y":{"field":"m","type":"quantitative","axis":null}}},
{"data":{"name":"box"},
 "mark":{"type":"rect","fill":"#000000","stroke":"#ffffff","strokeWidth":1,"clip":false},
 "encoding":{"x":{"field":"x1","type":"temporal","axis":null},"x2":{"field":"x2"},"y":{"field":"y1","type":"quantitative","axis":null},"y2":{"field":"y2"}}},
{"data":{"name":"box"},
 "mark":{"type":"text","color":"#d01414","font":"Liberation Sans","fontSize":10,"align":"center","baseline":"middle","clip":false},
 "encoding":{"x":{"field":"xt","type":"temporal","axis":null},"y":{"field":"yt","type":"quantitative","axis":null},"text":{"field":"t"}}},
{"data":{"name":"ui"},
 "mark":{"type":"rect","fill":"#ebebeb","stroke":"#9a9a9a","strokeWidth":1,"clip":false},
 "encoding":{"x":{"field":"x1","type":"temporal","axis":null},"x2":{"field":"x2"},"y":{"field":"y1","type":"quantitative","axis":null},"y2":{"field":"y2"}}}
]
}
